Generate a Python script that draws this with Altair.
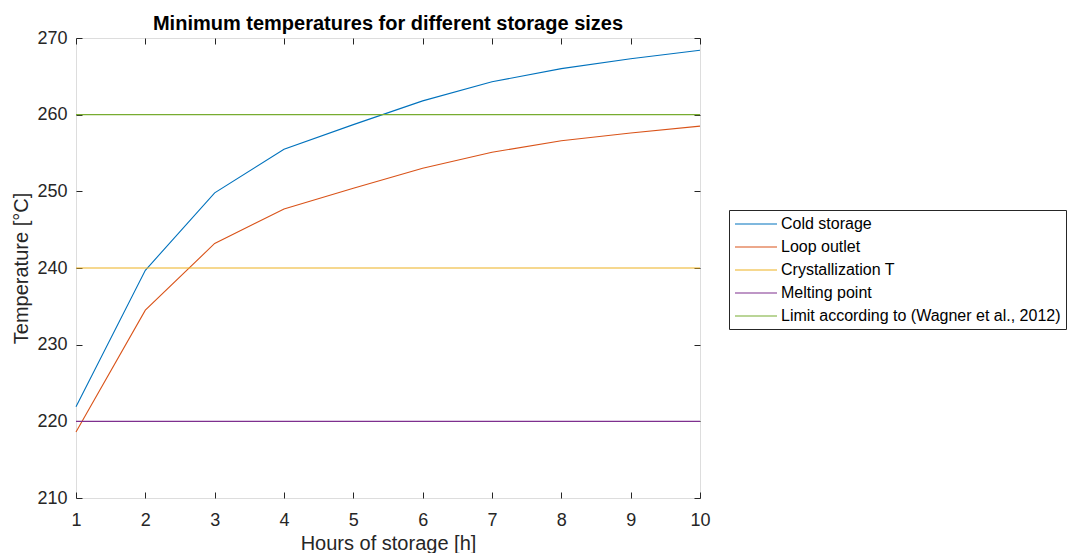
import altair as alt
import pandas as pd

# ---- data ----
hours = [1, 2, 3, 4, 5, 6, 7, 8, 9, 10]
cold_storage = [221.9, 239.7, 249.8, 255.5, 258.7, 261.8, 264.3, 266.0, 267.3, 268.4]
loop_outlet = [218.6, 234.5, 243.2, 247.7, 250.4, 253.0, 255.1, 256.6, 257.6, 258.5]
crystallization_T = 240
melting_point = 220
wagner_limit = 260

series_names = [
    "Cold storage",
    "Loop outlet",
    "Crystallization T",
    "Melting point",
    "Limit according to (Wagner et al., 2012)",
]
series_colors = ["#0072BD", "#D95319", "#EDB120", "#7E2F8E", "#77AC30"]
x_ticks = [1, 2, 3, 4, 5, 6, 7, 8, 9, 10]
y_ticks = [210, 220, 230, 240, 250, 260, 270]

rows = []
for h, v in zip(hours, cold_storage):
    rows.append({"hours": h, "temp": v, "series": series_names[0]})
for h, v in zip(hours, loop_outlet):
    rows.append({"hours": h, "temp": v, "series": series_names[1]})
for name, level in zip(series_names[2:], [crystallization_T, melting_point, wagner_limit]):
    for h in (hours[0], hours[-1]):
        rows.append({"hours": h, "temp": level, "series": name})
df = pd.DataFrame(rows)

AX = "#262626"
FONT = "Liberation Sans"

xscale = alt.Scale(domain=[1, 10], nice=False, zero=False)
yscale = alt.Scale(domain=[210, 270], nice=False, zero=False)

common = dict(offset=-6, tickSize=6, domain=False, grid=False,
              tickColor=AX, tickWidth=1, labelColor=AX, titleColor=AX)

bottom_axis = alt.Axis(orient="bottom", values=x_ticks, format="d", labelFontSize=18,
                       labelPadding=13, labelFlush=False, labelOverlap=False,
                       title="Hours of storage [h]", titleFontSize=20,
                       titleFontWeight="normal", titlePadding=4, **common)
left_axis = alt.Axis(orient="left", values=y_ticks, format="d", labelFontSize=18,
                     labelPadding=9, labelOverlap=False,
                     title="Temperature [°C]", titleFontSize=20,
                     titleFontWeight="normal", titlePadding=5, **common)
top_axis = alt.Axis(orient="top", values=x_ticks, labels=False, title=None, **common)
right_axis = alt.Axis(orient="right", values=y_ticks, labels=False, title=None, **common)

lines = alt.Chart(df).mark_line(strokeWidth=1.1).encode(
    x=alt.X("hours:Q", scale=xscale, axis=bottom_axis),
    y=alt.Y("temp:Q", scale=yscale, axis=left_axis),
    color=alt.Color(
        "series:N",
        sort=series_names,
        scale=alt.Scale(domain=series_names, range=series_colors),
        legend=alt.Legend(
            title=None, orient="none", legendX=653, legendY=172,
            symbolType="M-2.625,0H2.625", symbolSize=256, symbolStrokeWidth=1.1,
            symbolOffset=13,
            labelFontSize=16, labelColor="#000000", labelOffset=16, labelLimit=500,
            padding=5, rowPadding=6, strokeColor=AX, fillColor="white",
            labelFont=FONT,
        ),
    ),
)

frame_axes = alt.Chart(df).mark_point(opacity=0).encode(
    x=alt.X("hours:Q", scale=xscale, axis=top_axis),
    y=alt.Y("temp:Q", scale=yscale, axis=right_axis),
)

chart = (
    alt.layer(lines, frame_axes)
    .resolve_axis(x="independent", y="independent")
    .properties(
        width=624,
        height=460,
        title=alt.TitleParams(
            "Minimum temperatures for different storage sizes",
            fontSize=20, fontWeight="bold", anchor="middle", offset=0, dy=5,
            color="#000000", font=FONT,
        ),
        autosize=alt.AutoSizeParams(type="none"),
        padding={"left": 76, "top": 38, "right": 367, "bottom": 55},
        background="white",
    )
    .configure_view(stroke=AX, strokeWidth=1)
    .configure(font=FONT)
)

chart.save("out.html", embed_options={"renderer": "svg", "actions": False})
